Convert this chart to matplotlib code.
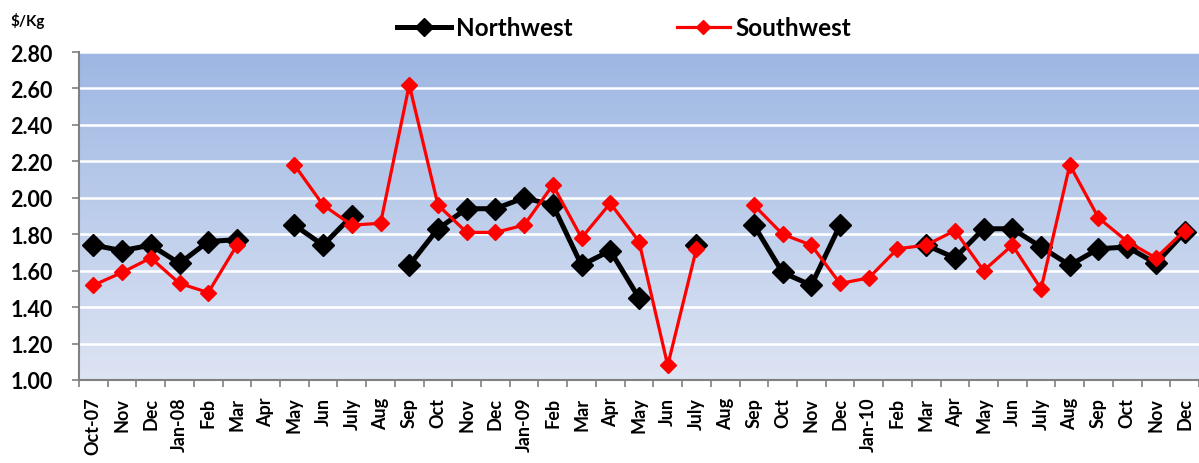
import numpy as np
import matplotlib
matplotlib.use("Agg")
import matplotlib.pyplot as plt
from matplotlib.colors import LinearSegmentedColormap

nan = np.nan
categories = ["Oct-07", "Nov", "Dec", "Jan-08", "Feb", "Mar", "Apr", "May", "Jun", "July",
              "Aug", "Sep", "Oct", "Nov", "Dec", "Jan-09", "Feb", "Mar", "Apr", "May",
              "Jun", "July", "Aug", "Sep", "Oct", "Nov", "Dec", "Jan-10", "Feb", "Mar",
              "Apr", "May", "Jun", "July", "Aug", "Sep", "Oct", "Nov", "Dec"]
northwest = [1.74, 1.71, 1.74, 1.64, 1.76, 1.77, nan, 1.85, 1.74, 1.90,
             nan, 1.63, 1.83, 1.94, 1.94, 2.00, 1.96, 1.63, 1.71, 1.45,
             nan, 1.74, nan, 1.85, 1.59, 1.52, 1.85, nan, nan, 1.74,
             1.67, 1.83, 1.83, 1.73, 1.63, 1.72, 1.73, 1.64, 1.81]
southwest = [1.52, 1.59, 1.67, 1.53, 1.48, 1.74, nan, 2.18, 1.96, 1.85,
             1.86, 2.62, 1.96, 1.81, 1.81, 1.85, 2.07, 1.78, 1.97, 1.76,
             1.08, 1.72, nan, 1.96, 1.80, 1.74, 1.53, 1.56, 1.72, 1.74,
             1.82, 1.60, 1.74, 1.50, 2.18, 1.89, 1.76, 1.67, 1.82]
yticks = [1.00, 1.20, 1.40, 1.60, 1.80, 2.00, 2.20, 2.40, 2.60, 2.80]

plt.rcParams['font.family'] = ['Lato', 'DejaVu Sans']

fig = plt.figure(figsize=(11.99, 4.64), dpi=100)
ax = fig.add_axes([79/1199, 83/464, 1 - 79/1199, 328/464])

x = np.arange(len(categories))
ax.set_xlim(-0.5, len(categories) - 0.5)
ax.set_ylim(1.0, 2.8)

# gradient background
cmap = LinearSegmentedColormap.from_list("bg", ["#DDE4F3", "#9DB7E3"])
grad = np.linspace(0, 1, 256).reshape(-1, 1)
ax.imshow(grad, extent=[0, 1, 0, 1], transform=ax.transAxes, origin="lower",
          aspect="auto", cmap=cmap, zorder=0)

for yv in yticks[1:]:
    ax.axhline(yv, color="white", lw=1.8, zorder=1)

ax.plot(x, northwest, color="black", lw=3.6, marker="D", ms=11, zorder=3, label="Northwest")
ax.plot(x, southwest, color="#FF0000", lw=2.3, marker="D", ms=8, zorder=4, label="Southwest")

ax.set_yticks(yticks)
ax.set_yticklabels([f"{v:.2f}" for v in yticks], fontsize=15.5, fontweight="bold")
ax.set_xticks(x)
ax.set_xticklabels(categories, rotation=90, fontsize=13, fontweight="bold")
ax.set_xticks(np.arange(-0.5, len(categories), 1), minor=True)
ax.tick_params(axis="x", which="major", length=0, pad=12)
ax.tick_params(axis="x", which="minor", length=5, color="#808080", width=1.2)
ax.tick_params(axis="y", length=5, color="#808080", width=1.2, pad=14)

for s in ["top", "right"]:
    ax.spines[s].set_visible(False)
for s in ["left", "bottom"]:
    ax.spines[s].set_color("#808080")
    ax.spines[s].set_linewidth(1.5)

fig.text(10/1199, 1 - 21/464, "$/Kg", fontsize=11, fontweight="bold", va="center")

leg = fig.legend(loc="center", bbox_to_anchor=(624/1199, 1 - 29/464), ncol=2, frameon=False,
                 prop={"size": 17.5, "weight": "bold"}, handlelength=2.2, columnspacing=4.3,
                 handletextpad=0.2, markerscale=0.85)

fig.savefig("out.png", dpi=100)
